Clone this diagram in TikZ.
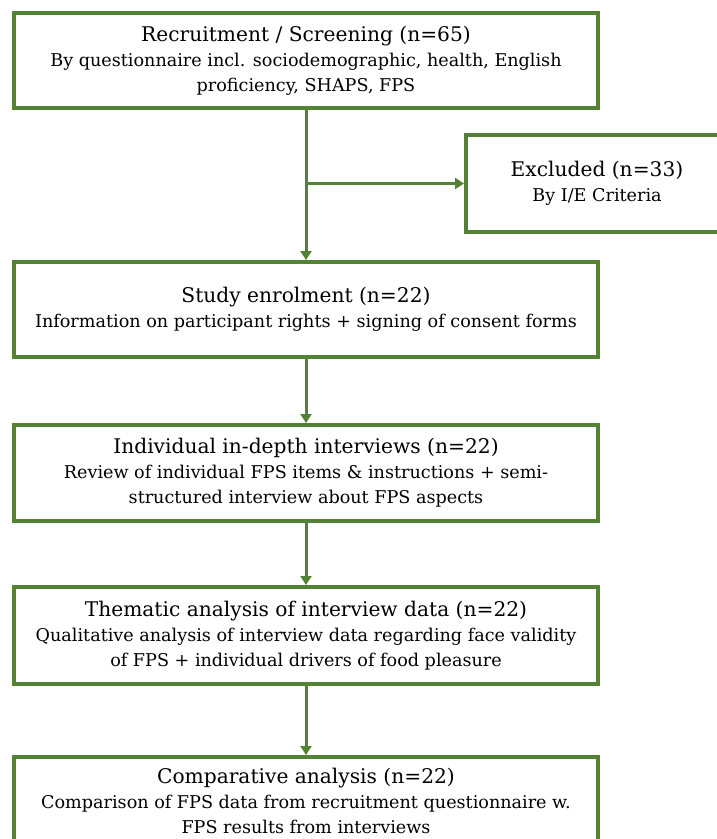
\documentclass[tikz,border=0pt]{standalone}
\usepackage{fontspec}
\setmainfont{DejaVu Serif}
\usetikzlibrary{arrows.meta}
\definecolor{boxgreen}{RGB}{84,130,53}
\newcommand{\ttl}{\fontsize{20.2}{25}\selectfont}
\newcommand{\sbt}{\fontsize{17.6}{25}\selectfont}
\tikzset{
  flowbox/.style={draw=boxgreen, line width=4pt, fill=white, align=center, inner sep=0pt, font=\sbt},
  flowarrow/.style={draw=boxgreen, line width=3pt, -{Triangle[length=9pt,width=11pt]}}
}
\begin{document}
\begin{tikzpicture}[x=1pt,y=-1pt]
\clip (0,0) rectangle (717,839);
\fill[white] (0,0) rectangle (717,839);
\node[flowbox, minimum width=584pt, minimum height=95pt] (rec) at (306,60.5)
  {{\ttl Recruitment / Screening (n=65)}\\By questionnaire incl. sociodemographic, health, English\\proficiency, SHAPS, FPS};
\node[flowbox, minimum width=262pt, minimum height=97pt] (exc) at (597,183.5)
  {{\ttl Excluded (n=33)}\\By I/E Criteria};
\node[flowbox, minimum width=584pt, minimum height=95pt] (enr) at (306,309.5)
  {{\ttl Study enrolment (n=22)}\\Information on participant rights + signing of consent forms};
\node[flowbox, minimum width=584pt, minimum height=96pt] (int) at (306,473)
  {{\ttl Individual in-depth interviews (n=22)}\\Review of individual FPS items \& instructions + semi-\\structured interview about FPS aspects};
\node[flowbox, minimum width=584pt, minimum height=97pt] (the) at (306,635.5)
  {{\ttl Thematic analysis of interview data (n=22)}\\Qualitative analysis of interview data regarding face validity\\of FPS + individual drivers of food pleasure};
\node[flowbox, minimum width=584pt, minimum height=88pt] (com) at (306,801)
  {{\ttl Comparative analysis (n=22)}\\Comparison of FPS data from recruitment questionnaire w.\\FPS results from interviews};
\coordinate (br) at (rec.south |- exc.west);
\draw[flowarrow] (rec.south) -- (enr.north);
\draw[flowarrow] (br) -- (exc.west);
\draw[flowarrow] (enr.south) -- (int.north);
\draw[flowarrow] (int.south) -- (the.north);
\draw[flowarrow] (the.south) -- (com.north);
\end{tikzpicture}
\end{document}
